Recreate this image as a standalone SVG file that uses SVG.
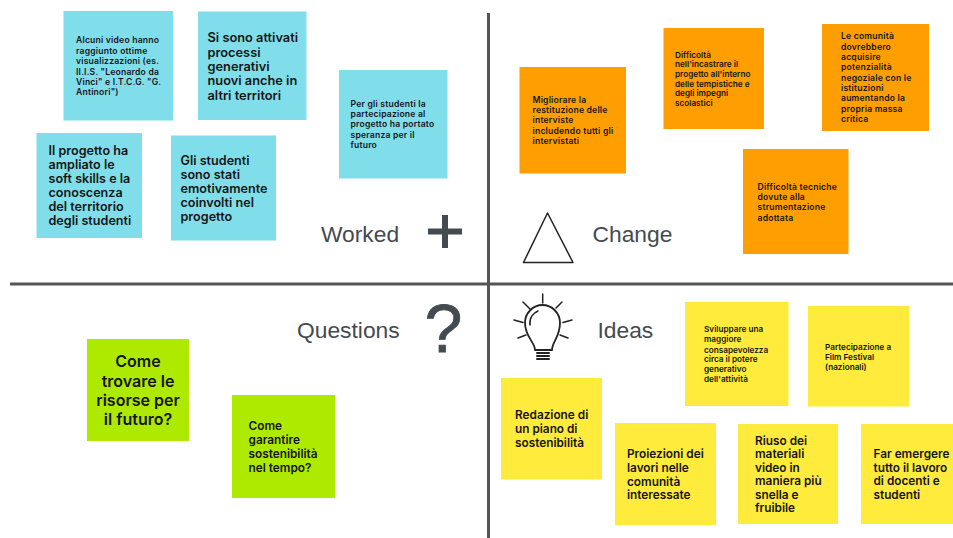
<svg xmlns="http://www.w3.org/2000/svg" width="953" height="538" viewBox="0 0 953 538">
<style>
.b{fill:#7fdeea}.o{fill:#ff9e00}.g{fill:#aeea00}.y{fill:#ffeb3b}
text{font-family:"Inter","Liberation Sans",sans-serif;font-weight:600;fill:#151515}
.s{font-size:8.6px;letter-spacing:.2px}.t{font-size:8.2px}.m{font-size:11.8px}.l{font-size:12.6px}
.h{font-family:"Liberation Sans",Arial,sans-serif;font-weight:400;font-size:22.8px;fill:#434a50}
.ln{stroke:#555;stroke-width:3;fill:none}
.ic{stroke:#222;fill:none;stroke-width:1.5;stroke-linecap:round;stroke-linejoin:round}
</style>
<g id="connectors">
<line class="ln" x1="488.500" y1="13" x2="488.500" y2="538"/>
<line class="ln" x1="10" y1="284" x2="953" y2="284"/>
</g>
<g id="worked-header"><text class="h" x="321" y="242">Worked</text><path d="M445 215V248M428 231.500H462" stroke="#434a50" stroke-width="6" fill="none"/></g>
<g id="change-header"><text class="h" x="592.500" y="242">Change</text><path class="ic" d="M547.500 213L523.500 262.500H573Z"/></g>
<g id="questions-header"><text class="h" x="297" y="337.500">Questions</text><text x="424.500" y="352" style="font-family:'Liberation Sans',sans-serif;font-weight:400;font-size:68px;fill:#434a50;stroke:#434a50;stroke-width:.8px">?</text></g>
<g id="ideas-header"><text class="h" x="597.500" y="337.500">Ideas</text>
<g class="ic">
<path d="M535 350C535 342 525 337 525 323C525 313 533 305 542.500 305C552 305 560 313 560 323C560 337 552 342 552 350Z" stroke-width="1.800"/>
<path d="M530 325C529 318 533 313 538 311"/>
<path d="M542.700 294V303M523 302L530 309M562 302L556 308M514 320L523 322.500M572 320L563 322.500M518 338L526 335M568 338L560 335"/>
<path d="M537 353H549M537 356H549M537 359H549" stroke-width="2"/></g></g>
<g id="w1"><rect class="b" x="63.500" y="11" width="109.500" height="109.500"/><text class="s"><tspan x="76" y="43">Alcuni video hanno</tspan><tspan x="76" y="53.500">raggiunto ottime</tspan><tspan x="76" y="64">visualizzazioni (es.</tspan><tspan x="76" y="74.500">II.I.S. "Leonardo da</tspan><tspan x="76" y="84.500">Vinci" e I.T.C.G. "G.</tspan><tspan x="76" y="95">Antinori")</tspan></text></g>
<g id="w2"><rect class="b" x="198" y="11.500" width="108.500" height="108.500"/><text class="l" style="font-size:12.800px"><tspan x="207.500" y="42">Si sono attivati</tspan><tspan x="207.500" y="56.500">processi</tspan><tspan x="207.500" y="70.500">generativi</tspan><tspan x="207.500" y="85">nuovi anche in</tspan><tspan x="207.500" y="99.500">altri territori</tspan></text></g>
<g id="w3"><rect class="b" x="36.500" y="133" width="105.500" height="105"/><text class="l"><tspan x="48.500" y="155">Il progetto ha</tspan><tspan x="48.500" y="169">ampliato le</tspan><tspan x="48.500" y="183">soft skills e la</tspan><tspan x="48.500" y="197">conoscenza</tspan><tspan x="48.500" y="211">del territorio</tspan><tspan x="48.500" y="225">degli studenti</tspan></text></g>
<g id="w4"><rect class="b" x="171" y="135.500" width="105" height="105"/><text class="l"><tspan x="180.500" y="164.500">Gli studenti</tspan><tspan x="180.500" y="178.500">sono stati</tspan><tspan x="180.500" y="193">emotivamente</tspan><tspan x="180.500" y="207">coinvolti nel</tspan><tspan x="180.500" y="221">progetto</tspan></text></g>
<g id="w5"><rect class="b" x="339" y="70" width="108.500" height="108.500"/><text class="s"><tspan x="350.500" y="107">Per gli studenti la</tspan><tspan x="350.500" y="117">partecipazione al</tspan><tspan x="350.500" y="127">progetto ha portato</tspan><tspan x="350.500" y="137.500">speranza per il</tspan><tspan x="350.500" y="147.500">futuro</tspan></text></g>
<g id="c1"><rect class="o" x="519.500" y="67" width="106.500" height="106.500"/><text class="s"><tspan x="532.500" y="103">Migliorare la</tspan><tspan x="532.500" y="113">restituzione delle</tspan><tspan x="532.500" y="123">interviste</tspan><tspan x="532.500" y="134">includendo tutti gli</tspan><tspan x="532.500" y="144">intervistati</tspan></text></g>
<g id="c2"><rect class="o" x="663.500" y="28" width="100.500" height="101"/><text class="t"><tspan x="675" y="57.500">Difficoltà</tspan><tspan x="675" y="67">nell'incastrare il</tspan><tspan x="675" y="77">progetto all'interno</tspan><tspan x="675" y="87">delle tempistiche e</tspan><tspan x="675" y="96">degli impegni</tspan><tspan x="675" y="106">scolastici</tspan></text></g>
<g id="c3"><rect class="o" x="822" y="24" width="107" height="107"/><text class="s"><tspan x="841" y="39">Le comunità</tspan><tspan x="841" y="49.500">dovrebbero</tspan><tspan x="841" y="60">acquisire</tspan><tspan x="841" y="70">potenzialità</tspan><tspan x="841" y="80.500">negoziale con le</tspan><tspan x="841" y="91">istituzioni</tspan><tspan x="841" y="101">aumentando la</tspan><tspan x="841" y="112">propria massa</tspan><tspan x="841" y="122">critica</tspan></text></g>
<g id="c4"><rect class="o" x="743" y="149" width="105.500" height="105"/><text class="s"><tspan x="757.500" y="190">Difficoltà tecniche</tspan><tspan x="757.500" y="200">dovute alla</tspan><tspan x="757.500" y="210">strumentazione</tspan><tspan x="757.500" y="220.500">adottata</tspan></text></g>
<g id="q1"><rect class="g" x="87" y="339" width="102" height="102"/><text style="font-size:16px" text-anchor="middle"><tspan x="138" y="367">Come</tspan><tspan x="138" y="386.500">trovare le</tspan><tspan x="138" y="406">risorse per</tspan><tspan x="138" y="425">il futuro?</tspan></text></g>
<g id="q2"><rect class="g" x="232" y="395" width="103" height="103"/><text class="m"><tspan x="248.500" y="429.500">Come</tspan><tspan x="248.500" y="443.500">garantire</tspan><tspan x="248.500" y="457.500">sostenibilità</tspan><tspan x="248.500" y="471.500">nel tempo?</tspan></text></g>
<g id="i1"><rect class="y" x="501" y="378" width="101" height="101.500"/><text class="m"><tspan x="515" y="419">Redazione di</tspan><tspan x="515" y="433">un piano di</tspan><tspan x="515" y="446.500">sostenibilità</tspan></text></g>
<g id="i2"><rect class="y" x="615" y="423" width="101" height="102"/><text class="m"><tspan x="627" y="458">Proiezioni dei</tspan><tspan x="627" y="471.500">lavori nelle</tspan><tspan x="627" y="485.500">comunità</tspan><tspan x="627" y="498.500">interessate</tspan></text></g>
<g id="i3"><rect class="y" x="738" y="424" width="100" height="100"/><text class="m"><tspan x="755" y="445">Riuso dei</tspan><tspan x="755" y="458">materiali</tspan><tspan x="755" y="471.500">video in</tspan><tspan x="755" y="485">maniera più</tspan><tspan x="755" y="498.500">snella e</tspan><tspan x="755" y="511.500">fruibile</tspan></text></g>
<g id="i4"><rect class="y" x="861" y="424" width="92" height="100"/><text class="m"><tspan x="873.500" y="458">Far emergere</tspan><tspan x="873.500" y="471.500">tutto il lavoro</tspan><tspan x="873.500" y="485">di docenti e</tspan><tspan x="873.500" y="498.500">studenti</tspan></text></g>
<g id="i5"><rect class="y" x="685" y="302" width="103.500" height="104"/><text class="t"><tspan x="704" y="332">Sviluppare una</tspan><tspan x="704" y="342">maggiore</tspan><tspan x="704" y="352.500">consapevolezza</tspan><tspan x="704" y="362">circa il potere</tspan><tspan x="704" y="372">generativo</tspan><tspan x="704" y="382">dell'attività</tspan></text></g>
<g id="i6"><rect class="y" x="808" y="306" width="101" height="100.500"/><text class="t"><tspan x="825" y="350">Partecipazione a</tspan><tspan x="825" y="359.500">Film Festival</tspan><tspan x="825" y="369.500">(nazionali)</tspan></text></g>
</svg>
